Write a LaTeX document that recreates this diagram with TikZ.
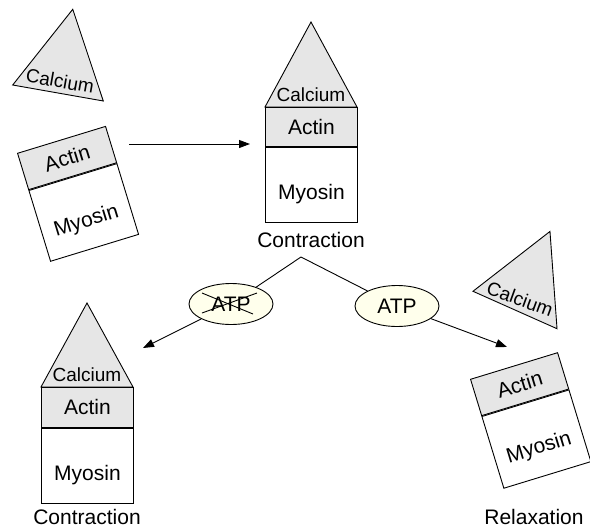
\documentclass[tikz,border=0pt]{standalone}
\usepackage{fontspec}
\setmainfont{Liberation Sans}
\usetikzlibrary{arrows.meta,calc,shapes.geometric}
\definecolor{shade}{RGB}{230,230,230}
\definecolor{atpfill}{RGB}{255,255,236}
\begin{document}
\begin{tikzpicture}[x=1pt,y=-1pt,
  line width=0.9pt,
  lbl/.style={inner sep=0pt,font=\fontsize{21}{24}\selectfont},
  calclbl/.style={inner sep=0pt,font=\fontsize{19}{22}\selectfont},
  actbox/.style={draw,fill=shade,minimum width=92pt,minimum height=39pt,inner sep=0pt},
  myobox/.style={draw,fill=white,minimum width=92pt,minimum height=75pt,inner sep=0pt},
  tri/.style={draw,fill=shade,line join=miter},
  atp/.style={draw,ellipse,fill=atpfill,minimum width=84pt,minimum height=41pt,inner sep=0pt,font=\fontsize{21}{24}\selectfont},
  arr/.style={-{Triangle[length=11pt,width=8pt]}}]
\useasboundingbox (0,0) rectangle (590,531);

% ---- top-left: separated calcium and actin/myosin ----
\begin{scope}[shift={(58,93)},rotate=-10]
  \draw[tri] (-46,0) -- (46,0) -- (0,-85) -- cycle;
\end{scope}
\node[calclbl,rotate=-10] (c1) at (60,81) {Calcium};
\node[actbox,rotate=17,anchor=north west,minimum height=38pt] (a1) at (17,153) {};
\node[myobox,rotate=17,anchor=north west,minimum height=74pt] (m1) at (a1.south west) {};
\node[lbl,rotate=17] (ta1) at (a1.center) {Actin};
\node[lbl,rotate=17] (tm1) at ($(m1.center)!0.25!(m1.south)$) {Myosin};

% ---- top-centre: contraction ----
\draw[tri] (265,107) -- (357,107) -- (311,22) -- cycle;
\node[calclbl] (c2) at (311,95) {Calcium};
\node[actbox,anchor=north west] (a2) at (265,107) {};
\node[myobox,anchor=north west] (m2) at (a2.south west) {};
\node[lbl] (ta2) at (a2.center) {Actin};
\node[lbl] (tm2) at ($(m2.center)!0.25!(m2.south)$) {Myosin};
\node[lbl] (con2) at (311,240) {Contraction};

% arrow top
\coordinate (s1) at (129,144);
\coordinate (e1) at (250,144);
\draw[arr] (s1) -- (e1);

% ---- split ----
\coordinate (split) at (301,257);
\node[atp] (atp1) at (231,304) {ATP};
\node[atp] (atp2) at (397,306) {ATP};
\draw ([shift={(-29,-11)}]atp1.center) -- ([shift={(22,10)}]atp1.center);
\draw ([shift={(-29,9)}]atp1.center) -- ([shift={(26,-11)}]atp1.center);
\coordinate (e2) at (143,348);
\coordinate (e3) at (507,347);
\draw (split) -- (atp1);
\draw[arr] (atp1) -- (e2);
\draw (split) -- (atp2);
\draw[arr] (atp2) -- (e3);

% ---- bottom-left: contraction ----
\draw[tri] (41,387) -- (133,387) -- (87,303) -- cycle;
\node[calclbl] (c3) at (87,375) {Calcium};
\node[actbox,anchor=north west,minimum height=40pt] (a3) at (41,387) {};
\node[myobox,anchor=north west] (m3) at (a3.south west) {};
\node[lbl] (ta3) at (a3.center) {Actin};
\node[lbl] (tm3) at ($(m3.center)!0.25!(m3.south)$) {Myosin};
\node[lbl] (con3) at (87,517) {Contraction};

% ---- bottom-right: relaxation ----
\begin{scope}[shift={(515,310)},rotate=-24]
  \draw[tri] (-46,0) -- (46,0) -- (0,-86) -- cycle;
\end{scope}
\node[calclbl,rotate=-20] (c4) at (520,299) {Calcium};
\node[actbox,rotate=17,anchor=north west,minimum width=91pt,minimum height=38pt] (a4) at (470,379) {};
\node[myobox,rotate=17,anchor=north west,minimum width=91pt] (m4) at (a4.south west) {};
\node[lbl,rotate=17] (ta4) at (a4.center) {Actin};
\node[lbl,rotate=17] (tm4) at ($(m4.center)!0.25!(m4.south)$) {Myosin};
\node[lbl] (rel) at (534,517) {Relaxation};
\end{tikzpicture}
\end{document}
